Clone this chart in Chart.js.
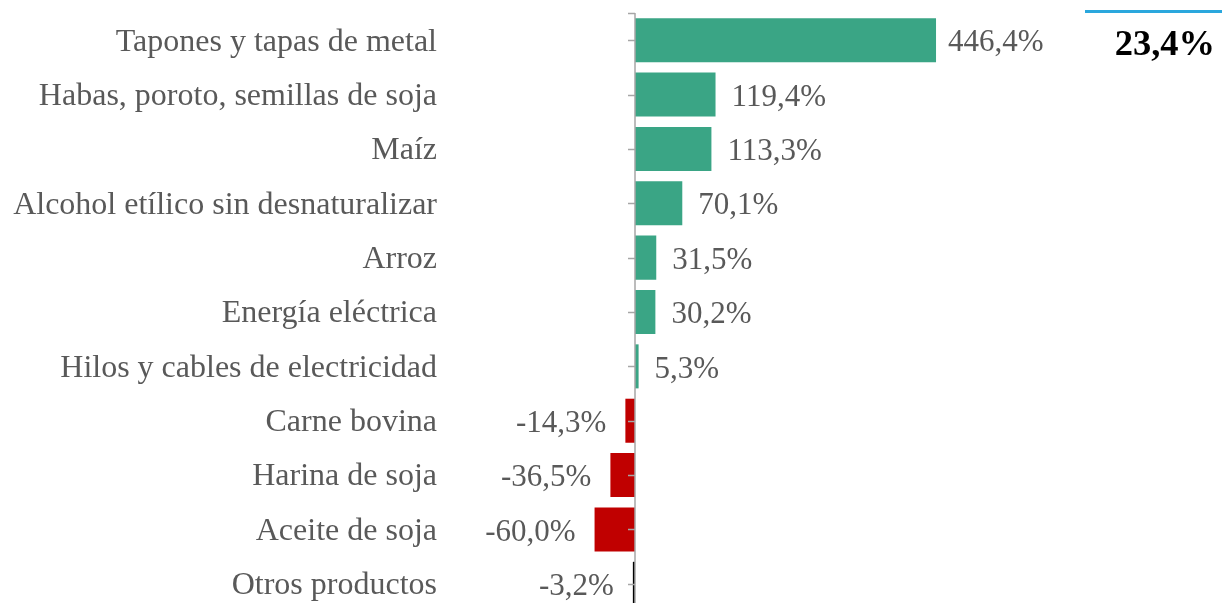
<!DOCTYPE html>
<html>
<head>
<meta charset="utf-8">
<script src="https://cdn.jsdelivr.net/npm/chart.js@4/dist/chart.umd.min.js"></script>
<style>
	html, body { margin: 0; padding: 0; background: #fff; overflow: hidden; }
	#wrap { position: relative; width: 1222px; height: 611px; }
	#total-line { position: absolute; left: 1085px; top: 10px; width: 137px; height: 3px; background: #2aa7dd; }
	#total { position: absolute; right: 7px; top: 21px; font: bold 36.5px "Liberation Serif", serif; color: #000; }
</style>
</head>
<body>
<div id="wrap">
	<canvas id="chart"></canvas>
	<div id="total-line"></div>
	<div id="total">23,4%</div>
</div>
<script>
const categories = [
	'Tapones y tapas de metal',
	'Habas, poroto, semillas de soja',
	'Maíz',
	'Alcohol etílico sin desnaturalizar',
	'Arroz',
	'Energía eléctrica',
	'Hilos y cables de electricidad',
	'Carne bovina',
	'Harina de soja',
	'Aceite de soja',
	'Otros productos'
];
const variation = [446.4, 119.4, 113.3, 70.1, 31.5, 30.2, 5.3, -14.3, -36.5, -60.0, -3.2];
const barColors = ['#3aa585', '#3aa585', '#3aa585', '#3aa585', '#3aa585', '#3aa585', '#3aa585',
	'#c00000', '#c00000', '#c00000', '#000000'];

const textColor = '#595959';
const axisColor = '#a6a6a6';
const serif = '"Liberation Serif", "Times New Roman", serif';

function formatPct(v)
{
	return v.toFixed(1).replace('.', ',') + '%';
}

// value labels next to each bar end
const valueLabels = {
	id: 'valueLabels',
	afterDatasetsDraw(chart) {
		const ctx = chart.ctx;
		const meta = chart.getDatasetMeta(0);
		ctx.save();
		ctx.font = '31px ' + serif;
		ctx.fillStyle = textColor;
		ctx.textBaseline = 'middle';
		meta.data.forEach((bar, i) => {
			const v = variation[i];
			if (v >= 0)
			{
				ctx.textAlign = 'left';
				ctx.fillText(formatPct(v), bar.x + (i === 0 ? 12 : 16), bar.y + 3);
			}
			else
			{
				ctx.textAlign = 'right';
				ctx.fillText(formatPct(v), bar.x - 19, bar.y + 3);
			}
		});
		ctx.restore();
	}
};

// vertical axis drawn at zero, with small ticks at each category
const zeroAxis = {
	id: 'zeroAxis',
	afterDatasetsDraw(chart) {
		const ctx = chart.ctx;
		const xs = chart.scales.x;
		const ys = chart.scales.y;
		const x = Math.round(xs.getPixelForValue(0));
		const top = chart.chartArea.top;
		ctx.save();
		ctx.strokeStyle = axisColor;
		ctx.lineWidth = 1.5;
		ctx.beginPath();
		ctx.moveTo(x, top);
		ctx.lineTo(x, chart.chartArea.bottom);
		ctx.moveTo(x - 7, top + 0.5);
		ctx.lineTo(x, top + 0.5);
		for (let i = 0; i < categories.length; i++)
		{
			const y = Math.round(ys.getPixelForTick(i)) + 0.5;
			ctx.moveTo(x - 7, y);
			ctx.lineTo(x, y);
		}
		ctx.stroke();
		ctx.restore();
	}
};

new Chart(document.getElementById('chart'), {
	type: 'bar',
	data: {
		labels: categories,
		datasets: [{
			data: variation,
			backgroundColor: barColors,
			borderWidth: 0,
			categoryPercentage: 1,
			barPercentage: 0.81
		}]
	},
	options: {
		indexAxis: 'y',
		responsive: true,
		maintainAspectRatio: false,
		animation: false,
		layout: {
			padding: {top: 13, left: 0, right: 0, bottom: 0}
		},
		plugins: {
			legend: {display: false},
			tooltip: {enabled: false}
		},
		scales: {
			x: {
				display: false,
				min: -281.8,
				max: 870.5
			},
			y: {
				afterFit(scale) {
					scale.width = 445;
					scale.paddingTop = 0;
					scale.paddingBottom = 0;
				},
				grid: {display: false, drawTicks: false},
				border: {display: false},
				ticks: {
					color: textColor,
					padding: 8,
					labelOffset: 2,
					font: {family: serif, size: 32}
				}
			}
		}
	},
	plugins: [valueLabels, zeroAxis]
});
</script>
</body>
</html>
